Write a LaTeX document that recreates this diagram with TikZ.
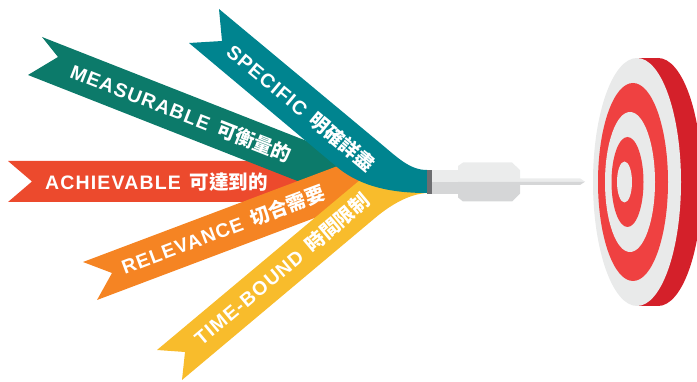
\documentclass[tikz,border=0pt]{standalone}
\usepackage{fontspec}
\newfontfamily\lat{Liberation Sans}[LetterSpace=6]
\newfontfamily\cjk{Noto Sans CJK TC}

\definecolor{rteal}{HTML}{00848F}
\definecolor{rgreen}{HTML}{0C7A6A}
\definecolor{rred}{HTML}{EC4A2D}
\definecolor{rorange}{HTML}{F58423}
\definecolor{ryellow}{HTML}{F8BC2C}
\definecolor{tlight}{HTML}{E9EAEA}
\definecolor{tred}{HTML}{EF4141}
\definecolor{trim}{HTML}{D4202A}
\definecolor{dlight}{HTML}{EBECEC}
\definecolor{dshade}{HTML}{D5D6D7}
\definecolor{dcollar}{HTML}{6D6E71}

\newcommand\ribbonlabel[2]{{\lat #1}\hspace{9pt}{\cjk #2}}

\tikzset{
  ribtext/.style={text=white, inner sep=0pt,
    font=\fontsize{19.5}{20}\selectfont\bfseries},
}

\begin{document}
\begin{tikzpicture}[x=1pt,y=-1pt]
\path[use as bounding box] (0,0) rectangle (697,382);

% --- ribbons, back to front ---
\fill[rred] (8,161) -- (315,161) -- (315,202) -- (8,202) -- (32,181.5) -- cycle;
\fill[rgreen] (42,37) -- (350,158) -- (427,176) -- (427,188) -- (300,182)
  -- (28,75) -- (58,57) -- cycle;
\fill[rorange] (83,262) -- (360,157.6) -- (427,174) -- (427,192) -- (380,193.3)
  -- (97,300) -- (112,273) -- cycle;
\fill[ryellow] (157,350) -- (360,180) .. controls (380,172) and (405,175) .. (427,175)
  -- (427,193) .. controls (410,194) and (392,203.7) .. (375,218)
  -- (182,380) -- (185,352) -- cycle;
\fill[rteal] (219,9) -- (380,143) .. controls (398,158) and (410,170) .. (427,170)
  -- (427,193) .. controls (395,193) and (362,188) .. (337,167)
  -- (189,43) -- (222,41) -- cycle;

% --- ribbon labels ---
\node[ribtext, rotate=-39.8] (specific) at (301,108) {\ribbonlabel{SPECIFIC}{明確詳盡}};
\node[ribtext, rotate=-21.4] (measurable) at (181,113) {\ribbonlabel{MEASURABLE}{可衡量的}};
\node[ribtext] (achievable) at (156.5,182) {\ribbonlabel{ACHIEVABLE}{可達到的}};
\node[ribtext, rotate=20.6] (relevance) at (223,230) {\ribbonlabel{RELEVANCE}{切合需要}};
\node[ribtext, rotate=40] (timebound) at (282,269) {\ribbonlabel{TIME-BOUND}{時間限制}};

% --- dart ---
\fill[dcollar] (427,170) rectangle (432,194);
\fill[dlight] (432,170) rectangle (459,182);
\fill[dshade] (432,182) rectangle (459,194);
\fill[dlight] (458,182) -- (458,166) -- (463,162.5) -- (512,162.5) -- (520,170)
  -- (520,182) -- cycle;
\fill[dshade] (458,182) -- (520,182) -- (520,193.5) -- (512,201.5) -- (463,201.5)
  -- (458,197.5) -- cycle;
\fill[dlight] (520,178.3) -- (580,178.3) -- (585,181.7) -- (520,181.7) -- cycle;
\fill[dshade] (520,181.7) -- (585,181.7) -- (580,185) -- (520,185) -- cycle;

% --- target board ---
\begin{scope}
  \clip (0,0) rectangle (697,382);
  \fill[trim] (637,58) rectangle (658,306);
  \fill[trim] (658,182) ellipse [x radius=44pt, y radius=124pt];
  \fill[tlight] (637,182) ellipse [x radius=44pt, y radius=124pt];
  \fill[tred] (633,182) ellipse [x radius=35pt, y radius=99pt];
  \fill[tlight] (630,182) ellipse [x radius=25pt, y radius=70pt];
  \fill[tred] (627.5,182) ellipse [x radius=16pt, y radius=45pt];
  \fill[tlight] (624.5,182) ellipse [x radius=7.5pt, y radius=20.5pt];
\end{scope}
\end{tikzpicture}
\end{document}
